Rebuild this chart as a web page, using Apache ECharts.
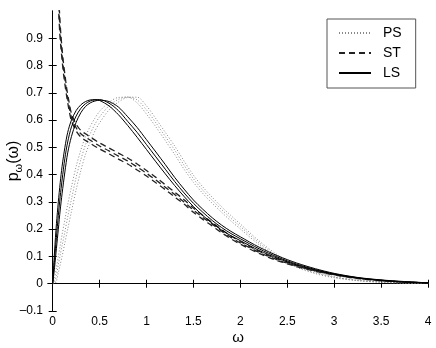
<!DOCTYPE html>
<html>
<head>
<meta charset="utf-8">
<script src="https://cdn.jsdelivr.net/npm/echarts@6/dist/echarts.min.js"></script>
<style>html,body{margin:0;padding:0;background:#fff}#c{width:436px;height:348px}</style>
</head>
<body>
<div id="c"></div>
<script>
// shared omega grid for PS and LS
const omega = [0,0.02,0.04,0.06,0.08,0.1,0.13,0.16,0.2,0.25,0.3,0.35,0.4,0.45,0.5,0.6,0.7,0.8,0.9,1.0,1.1,1.2,1.3,1.4,1.5,1.6,1.7,1.8,1.9,2.0,2.2,2.4,2.6,2.8,3.0,3.25,3.5,3.75,4.0];
const ls1 = [0,0.12,0.22,0.3,0.37,0.43,0.5,0.555,0.6,0.635,0.656,0.668,0.674,0.675,0.672,0.652,0.62,0.58,0.537,0.492,0.447,0.403,0.36,0.32,0.283,0.25,0.222,0.197,0.176,0.158,0.122,0.093,0.069,0.05,0.035,0.021,0.012,0.006,0.003];
const ls2 = [0,0.09,0.17,0.25,0.32,0.38,0.46,0.52,0.575,0.615,0.643,0.66,0.67,0.674,0.675,0.662,0.635,0.595,0.555,0.51,0.465,0.42,0.375,0.333,0.295,0.262,0.232,0.206,0.184,0.165,0.128,0.097,0.072,0.052,0.036,0.022,0.013,0.007,0.003];
const ls3 = [0,0.06,0.13,0.2,0.27,0.33,0.41,0.48,0.54,0.592,0.627,0.65,0.663,0.67,0.673,0.668,0.648,0.612,0.573,0.528,0.483,0.437,0.39,0.347,0.307,0.273,0.242,0.215,0.192,0.172,0.134,0.102,0.076,0.055,0.038,0.023,0.014,0.008,0.003];
const ps1 = [0,0.02,0.06,0.1,0.14,0.18,0.235,0.29,0.355,0.43,0.49,0.54,0.577,0.607,0.632,0.665,0.683,0.684,0.663,0.622,0.575,0.525,0.474,0.42,0.372,0.331,0.295,0.262,0.23,0.201,0.143,0.095,0.06,0.037,0.022,0.011,0.005,0.002,0.001];
const ps2 = [0,0.005,0.03,0.07,0.105,0.14,0.19,0.245,0.31,0.39,0.455,0.51,0.55,0.585,0.612,0.652,0.676,0.685,0.674,0.637,0.59,0.54,0.49,0.435,0.385,0.343,0.306,0.272,0.24,0.21,0.15,0.1,0.064,0.04,0.024,0.012,0.006,0.003,0.001];
const ps3 = [0,0,0.01,0.04,0.07,0.1,0.15,0.2,0.265,0.345,0.415,0.475,0.52,0.56,0.59,0.637,0.666,0.683,0.684,0.652,0.605,0.555,0.505,0.45,0.398,0.355,0.317,0.282,0.25,0.219,0.157,0.105,0.068,0.043,0.026,0.013,0.007,0.003,0.001];
// ST grid
const omegaST = [0.065,0.075,0.085,0.1,0.115,0.13,0.15,0.175,0.2,0.25,0.3,0.37,0.5,0.6,0.7,0.8,0.9,1.0,1.1,1.2,1.3,1.4,1.5,1.6,1.7,1.8,1.9,2.0,2.2,2.4,2.6,2.8,3.0,3.25,3.5,3.75,4.0];
const st1 = [1.05,0.98,0.925,0.86,0.81,0.768,0.715,0.665,0.624,0.585,0.562,0.545,0.516,0.498,0.479,0.461,0.439,0.415,0.39,0.363,0.336,0.308,0.278,0.25,0.224,0.199,0.175,0.155,0.119,0.09,0.067,0.048,0.034,0.021,0.012,0.006,0.003];
const st2 = [1.02,0.95,0.9,0.84,0.79,0.75,0.7,0.65,0.61,0.572,0.55,0.533,0.505,0.487,0.468,0.45,0.428,0.405,0.38,0.354,0.327,0.3,0.27,0.243,0.218,0.193,0.17,0.15,0.115,0.087,0.065,0.047,0.033,0.02,0.012,0.006,0.003];
const st3 = [0.99,0.92,0.875,0.82,0.77,0.732,0.685,0.635,0.597,0.56,0.538,0.521,0.494,0.476,0.457,0.439,0.417,0.395,0.37,0.345,0.318,0.292,0.262,0.236,0.212,0.187,0.165,0.145,0.111,0.084,0.063,0.046,0.032,0.019,0.011,0.006,0.003];
const xTicks = [0,0.5,1,1.5,2,2.5,3,3.5,4];
const yTicks = [-0.1,0,0.1,0.2,0.3,0.4,0.5,0.6,0.7,0.8,0.9];

const pair = (xs, ys) => xs.map((x, i) => [x, ys[i]]);
const FONT = '"Liberation Sans", Arial, sans-serif';

function mk(name, xs, ys, style) {
  return { name, type: 'line', data: pair(xs, ys), symbol: 'none', smooth: 0.3,
    lineStyle: style, itemStyle: { color: style.color }, z: 2, silent: true };
}
const psStyle = { color: '#888', width: 1, type: [1, 2] };
const stStyle = { color: '#222', width: 1.3, type: [6, 4] };
const lsStyle = { color: '#000', width: 1 };

const series = [
  mk('PS', omega, ps1, psStyle), mk('PS', omega, ps2, psStyle), mk('PS', omega, ps3, psStyle),
  mk('ST', omegaST, st1, stStyle), mk('ST', omegaST, st2, stStyle), mk('ST', omegaST, st3, stStyle),
  mk('LS', omega, ls1, lsStyle), mk('LS', omega, ls2, lsStyle), mk('LS', omega, ls3, lsStyle)
];

const fmt = v => { const s = String(Math.round(v * 10) / 10); return v < 0 ? '\u2013' + s.slice(1) : s; };
const axisLine = { show: true, lineStyle: { color: '#000', width: 1 } };

const chart = echarts.init(document.getElementById('c'), null, { renderer: 'canvas' });
chart.setOption({
  animation: false,
  backgroundColor: '#fff',
  grid: { left: 48, right: 8, top: 11, bottom: 37, containLabel: false, outerBoundsMode: 'none' },
  legend: {
    data: ['PS', 'ST', 'LS'], orient: 'vertical', left: 327, top: 19,
    itemWidth: 32, itemHeight: 14, itemGap: 6, padding: [7, 14, 8, 11],
    borderColor: '#555', borderWidth: 1, backgroundColor: '#fff',
    itemStyle: { opacity: 0 },
    textStyle: { fontFamily: FONT, fontSize: 14, color: '#000', width: 41, padding: [0, 0, 0, 7] },
    selectedMode: false
  },
  xAxis: [
    { type: 'value', min: -0.05, max: 4, position: 'bottom',
      name: '\u03c9', nameLocation: 'middle', nameGap: 19, nameMoveOverlap: false,
      nameTextStyle: { fontFamily: FONT, fontSize: 15, color: '#000' },
      axisLine, splitLine: { show: false },
      axisTick: { inside: true, length: 4, customValues: xTicks, lineStyle: { color: '#000' } },
      axisLabel: { customValues: xTicks, formatter: fmt, fontFamily: FONT, fontSize: 12, color: '#000', margin: 5 } },
    { type: 'value', min: -0.05, max: 4, position: 'top',
      axisLine, splitLine: { show: false },
      axisTick: { inside: true, length: 4, customValues: xTicks, lineStyle: { color: '#000' } },
      axisLabel: { show: false } }
  ],
  yAxis: [
    { type: 'value', min: -0.1, max: 1, position: 'left',
      name: '{p|p}{s|\u03c9}{p|(\u03c9)}', nameLocation: 'middle', nameGap: 24, nameRotate: 90,
      nameMoveOverlap: false,
      nameTextStyle: { fontFamily: FONT, color: '#000',
        rich: { p: { fontFamily: FONT, fontSize: 16, color: '#000' },
                s: { fontFamily: FONT, fontSize: 11, color: '#000', padding: [9, 0, 0, 0] } } },
      axisLine, splitLine: { show: false },
      axisTick: { inside: true, length: 4, customValues: yTicks, lineStyle: { color: '#000' } },
      axisLabel: { customValues: yTicks, formatter: fmt, fontFamily: FONT, fontSize: 12, color: '#000', margin: 5 } },
    { type: 'value', min: -0.1, max: 1, position: 'right',
      axisLine, splitLine: { show: false },
      axisTick: { inside: true, length: 4, customValues: yTicks, lineStyle: { color: '#000' } },
      axisLabel: { show: false } }
  ],
  series
});
</script>
</body>
</html>
